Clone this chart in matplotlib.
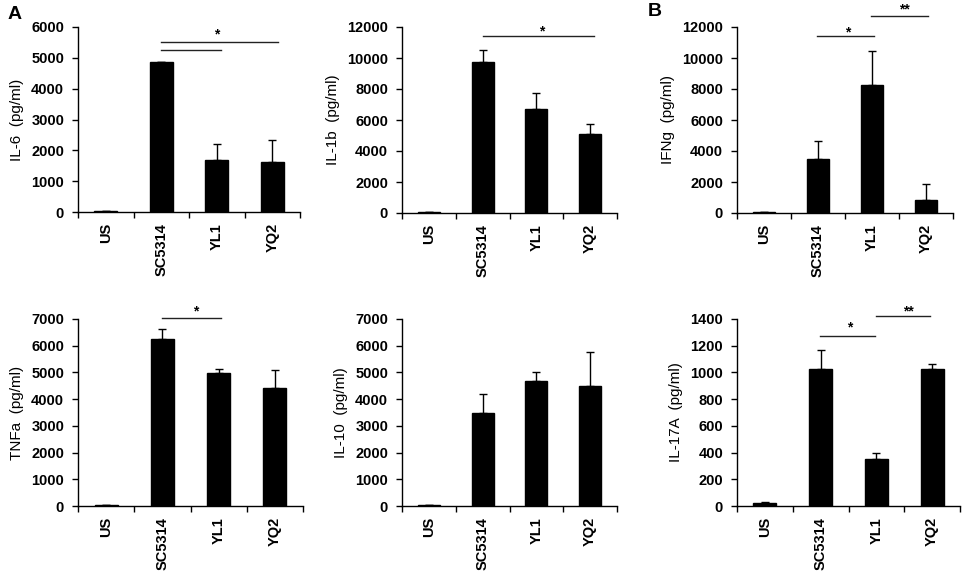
import numpy as np
import matplotlib
matplotlib.use("Agg")
import matplotlib.pyplot as plt
from matplotlib.ticker import FixedLocator

plt.rcParams['font.family'] = ['Liberation Sans', 'DejaVu Sans']

groups = ['US', 'SC5314', 'YL1', 'YQ2']

il6 = [30, 4880, 1700, 1630]
il6_err = [0, 0, 500, 700]
il1b = [50, 9750, 6730, 5100]
il1b_err = [0, 750, 1030, 620]
ifng = [80, 3470, 8230, 810]
ifng_err = [0, 1160, 2210, 1030]
tnfa = [30, 6270, 4990, 4400]
tnfa_err = [0, 360, 150, 690]
il10 = [30, 3490, 4680, 4490]
il10_err = [0, 710, 320, 1290]
il17a = [20, 1025, 350, 1025]
il17a_err = [10, 145, 45, 40]

# significance lines: (x start, x end, y) and stars: (x, y, label)
il6_lines = [(1.0, 3.1, 5520), (1.0, 2.07, 5240)]
il6_stars = [(2.0, 5840, '*')]
il1b_lines = [(1.0, 3.08, 11400)]
il1b_stars = [(2.1, 11890, '*')]
ifng_lines = [(0.98, 2.04, 11420), (1.99, 3.03, 12700)]
ifng_stars = [(1.55, 11830, '*'), (2.6, 13290, '**')]
tnfa_lines = [(1.0, 2.05, 7050)]
tnfa_stars = [(1.59, 7380, '*')]
il10_lines = []
il10_stars = []
il17a_lines = [(0.99, 1.98, 1275), (2.0, 2.97, 1425)]
il17a_stars = [(1.52, 1357, '*'), (2.57, 1482, '**')]

panels = [
    ('IL-6  (pg/ml)', il6, il6_err, 6000, 1000, il6_lines, il6_stars, (78, 300, 27, 212)),
    ('IL-1b  (pg/ml)', il1b, il1b_err, 12000, 2000, il1b_lines, il1b_stars, (402, 617, 27, 213)),
    ('IFNg  (pg/ml)', ifng, ifng_err, 12000, 2000, ifng_lines, ifng_stars, (737, 953, 27, 213)),
    ('TNFa  (pg/ml)', tnfa, tnfa_err, 7000, 1000, tnfa_lines, tnfa_stars, (78, 303, 319, 506)),
    ('IL-10  (pg/ml)', il10, il10_err, 7000, 1000, il10_lines, il10_stars, (402, 617, 319, 506)),
    ('IL-17A  (pg/ml)', il17a, il17a_err, 1400, 200, il17a_lines, il17a_stars, (737, 960, 319, 506)),
]

W, H = 965, 578
fig = plt.figure(figsize=(W / 100, H / 100), dpi=100)

x = np.arange(len(groups))
for label, vals, errs, ymax, step, lines, stars, (x0, x1, y0, y1) in panels:
    ax = fig.add_axes([x0 / W, 1 - y1 / H, (x1 - x0) / W, (y1 - y0) / H])
    ax.bar(x, vals, width=0.41, color='black', edgecolor='black', zorder=2)
    ax.errorbar(x, vals, yerr=[np.zeros(len(errs)), errs], fmt='none',
                ecolor='black', elinewidth=1, capsize=3, capthick=1, zorder=1)
    ax.set_xlim(-0.5, len(groups) - 0.5)
    ax.set_ylim(0, ymax)
    ax.set_yticks(np.arange(0, ymax + 1, step))
    ax.set_xticks(x)
    ax.set_xticklabels(groups, rotation=90, fontsize=10.5, fontweight='bold')
    for t in ax.get_yticklabels():
        t.set_fontweight('bold')
    ax.xaxis.set_minor_locator(FixedLocator(np.arange(-0.5, len(groups), 1.0)))
    ax.tick_params(axis='x', which='major', length=0, pad=8)
    ax.tick_params(axis='x', which='minor', length=4, width=1, direction='out')
    ax.tick_params(axis='y', length=4, width=1, labelsize=10.5, pad=6)
    ax.set_ylabel(label, fontsize=11, labelpad=5)
    for s in ['top', 'right']:
        ax.spines[s].set_visible(False)
    for s in ['left', 'bottom']:
        ax.spines[s].set_linewidth(1)
    for xa, xb, yv in lines:
        ax.plot([xa, xb], [yv, yv], color='#222222', lw=1, clip_on=False)
    for xs, ys, txt in stars:
        ax.annotate(txt, (xs, ys), xytext=(0, -5), textcoords='offset points',
                    ha='center', va='baseline', fontsize=10, fontweight='bold',
                    annotation_clip=False)

fig.text(8 / W, 1 - 6 / H, 'A', fontsize=14, fontweight='bold', va='top', ha='left')
fig.text(648 / W, 1 - 3 / H, 'B', fontsize=14, fontweight='bold', va='top', ha='left')

fig.savefig('out.png', dpi=100)
